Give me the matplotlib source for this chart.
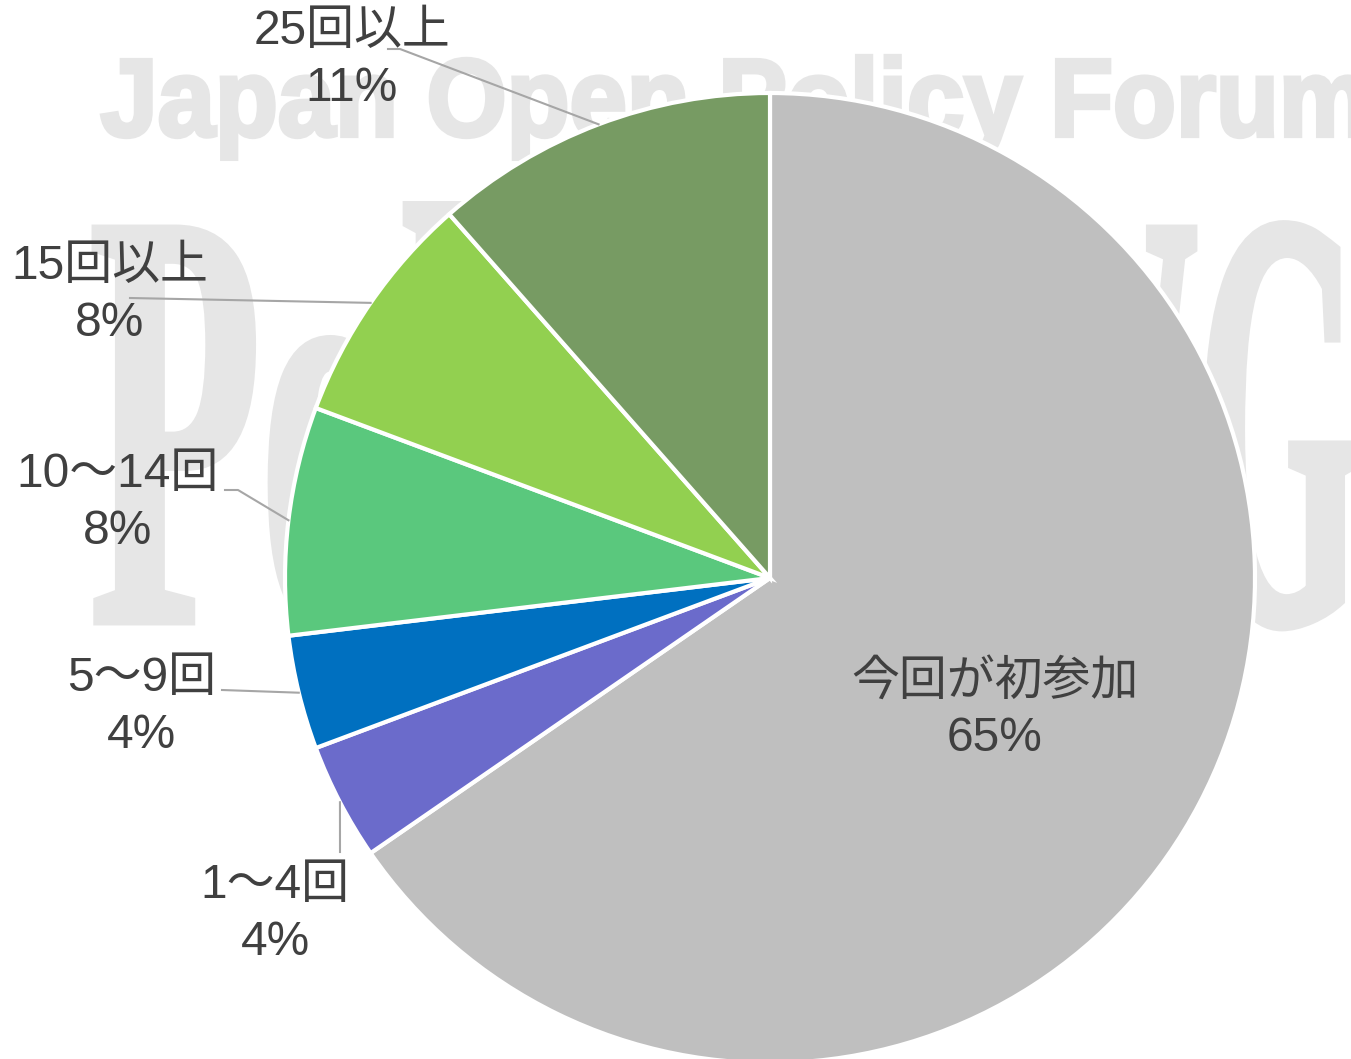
import numpy as np
import matplotlib
matplotlib.use("Agg")
import matplotlib.pyplot as plt
from matplotlib.textpath import TextPath
from matplotlib.patches import PathPatch
from matplotlib.font_manager import FontProperties
import matplotlib.transforms as mtransforms

# data (share of respondents, %), clockwise from 12 o'clock
categories = ["今回が初参加", "1〜4回", "5〜9回", "10〜14回", "15回以上", "25回以上"]
shares = [65.4, 3.9, 3.8, 7.6, 7.8, 11.5]
pct_labels = ["65%", "4%", "4%", "8%", "8%", "11%"]
colors = ["#BFBFBF", "#6B6BCB", "#0070C0", "#5AC87D", "#92D050", "#779B63"]

W, H = 1351, 1059
TEXT = "#404040"
LEADER = "#A6A6A6"
WATERMARK = "#E6E6E6"
label_font = ["Liberation Sans", "Noto Sans CJK JP"]


def img_y(y):
    # picture rows (top-down) -> data y (bottom-up)
    return H - y


def watermark(ax, text, prop, left, width, baseline, cap_px, cap_char, bold=0):
    tp = TextPath((0, 0), text, size=100, prop=prop)
    ext = tp.get_extents()
    cap = TextPath((0, 0), cap_char, size=100, prop=prop).get_extents().y1
    sx = width / ext.width
    sy = cap_px / cap
    tr = mtransforms.Affine2D().translate(-ext.x0, 0).scale(sx, sy).translate(left, img_y(baseline))
    patch = PathPatch(tr.transform_path(tp), facecolor=WATERMARK, edgecolor=WATERMARK,
                      linewidth=bold, zorder=0)
    ax.add_patch(patch)


def main():
    fig = plt.figure(figsize=(W / 100, H / 100), dpi=100)
    ax = fig.add_axes([0, 0, 1, 1])

    # background watermark
    watermark(ax, "Japan Open Policy Forum",
              FontProperties(family="Liberation Sans", weight="bold"),
              left=102, width=1262, baseline=136, cap_px=76, cap_char="J", bold=3)
    serif = FontProperties(family="Liberation Serif", weight="bold")
    watermark(ax, "Policy", serif, left=95, width=720, baseline=622,
              cap_px=394, cap_char="P", bold=5)
    watermark(ax, "WG", serif, left=990, width=365, baseline=622,
              cap_px=394, cap_char="W", bold=5)

    cx, cy, r = 770, img_y(578), 485
    wedges, _ = ax.pie(shares, colors=colors, startangle=90, counterclock=False,
                       center=(cx, cy), radius=r, frame=True,
                       wedgeprops=dict(edgecolor="white", linewidth=3, zorder=2))
    ax.set_xlim(0, W)
    ax.set_ylim(0, H)
    ax.set_aspect("equal")
    ax.axis("off")

    # label layout: text centre (x, row) and leader start points
    layout = {
        0: dict(xy=(995, 710), leader=None),
        1: dict(xy=(275, 914), leader=[(340, 852)]),
        2: dict(xy=(142, 707), leader=[(222, 690)]),
        3: dict(xy=(118, 503), leader=[(225, 490), (238, 490)]),
        4: dict(xy=(110, 295), leader=[(130, 298)]),
        5: dict(xy=(352, 60), leader=[(388, 49), (400, 49)]),
    }

    for i, w in enumerate(wedges):
        lay = layout[i]
        x, y = lay["xy"]
        ax.text(x, img_y(y), categories[i] + "\n" + pct_labels[i], ha="center", va="center",
                fontsize=34.5, color=TEXT, family=label_font, linespacing=1.33, zorder=5)
        if lay["leader"] is not None:
            mid = np.deg2rad((w.theta1 + w.theta2) / 2)
            ex, ey = cx + r * np.cos(mid), cy + r * np.sin(mid)
            pts = [(px, img_y(py)) for px, py in lay["leader"]] + [(ex, ey)]
            xs, ys = zip(*pts)
            ax.plot(xs, ys, color=LEADER, lw=1.5, zorder=3)

    fig.savefig("out.png", dpi=100, facecolor="white")


if __name__ == '__main__':
    main()
